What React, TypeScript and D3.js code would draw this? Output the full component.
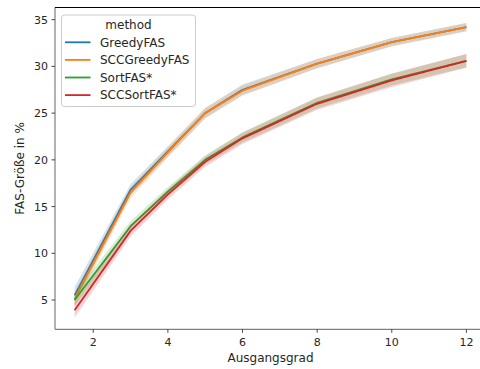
import React from "react";
import * as d3 from "d3";

// Ausgangsgrad (out-degree) values on the x axis
const degrees = [1.5, 3, 4, 5, 6, 8, 10, 12];

const methods = ["GreedyFAS", "SCCGreedyFAS", "SortFAS*", "SCCSortFAS*"];
const colors = ["#1f77b4", "#ff7f0e", "#2ca02c", "#d62728"];

// Mean FAS size in percent per method
const greedyFAS = [5.5, 16.8, 20.9, 25.0, 27.5, 30.3, 32.6, 34.2];
const sccGreedyFAS = [5.1, 16.5, 20.8, 25.0, 27.4, 30.3, 32.6, 34.2];
const sortFAS = [5.0, 12.9, 16.6, 20.0, 22.4, 26.1, 28.6, 30.6];
const sccSortFAS = [3.9, 12.4, 16.3, 19.8, 22.3, 26.0, 28.5, 30.6];

// Confidence interval half-widths per method
const greedyCI = [0.9, 0.6, 0.55, 0.55, 0.55, 0.5, 0.45, 0.45];
const sccGreedyCI = [0.8, 0.6, 0.55, 0.55, 0.55, 0.5, 0.45, 0.45];
const sortCI = [0.7, 0.55, 0.5, 0.5, 0.55, 0.6, 0.65, 0.7];
const sccSortCI = [0.8, 0.6, 0.55, 0.55, 0.6, 0.65, 0.7, 0.75];

const xTicks = [2, 4, 6, 8, 10, 12];
const yTicks = [5, 10, 15, 20, 25, 30, 35];

const seriesValues = [greedyFAS, sccGreedyFAS, sortFAS, sccSortFAS];
const seriesCI = [greedyCI, sccGreedyCI, sortCI, sccSortCI];

const W = 480;
const H = 369;
const left = 55;
const right = 486;
const top = 7.5;
const bottom = 329.3;
const font = "DejaVu Sans, sans-serif";

export default function App() {
  const x = d3.scaleLinear().domain([0.975, 12.525]).range([left, right]);
  const y = d3.scaleLinear().domain([1.87, 36.3]).range([bottom, top]);

  const line = d3
    .line<number>()
    .x((_, i) => x(degrees[i]))
    .y((d) => y(d));

  const area = (vals: number[], ci: number[]) =>
    d3
      .area<number>()
      .x((_, i) => x(degrees[i]))
      .y0((d, i) => y(d - ci[i]))
      .y1((d, i) => y(d + ci[i]))(vals) || "";

  return (
    <svg
      width={W}
      height={H}
      style={{ position: "absolute", left: 0, top: 0, background: "#fff" }}
      fontFamily={font}
    >
      <defs>
        <clipPath id="plotArea">
          <rect x={left} y={top} width={right - left} height={bottom - top} />
        </clipPath>
      </defs>
      <g clipPath="url(#plotArea)">
        {seriesValues.map((vals, k) => (
          <g key={methods[k]}>
            <path
              d={line(vals) || ""}
              fill="none"
              stroke={colors[k]}
              strokeWidth={1.8}
              strokeLinejoin="round"
            />
            <path d={area(vals, seriesCI[k])} fill={colors[k]} fillOpacity={0.2} />
          </g>
        ))}
      </g>

      {/* spines */}
      <line x1={left} x2={left} y1={top} y2={bottom} stroke="#7f7f7f" strokeWidth={1.2} />
      <line x1={left} x2={W} y1={bottom} y2={bottom} stroke="#7f7f7f" strokeWidth={1.2} />
      <line x1={left} x2={W} y1={top} y2={top} stroke="#000" strokeWidth={1.2} />

      {/* x axis */}
      {xTicks.map((t) => (
        <g key={"x" + t}>
          <line x1={x(t)} x2={x(t)} y1={bottom} y2={bottom + 3.5} stroke="#333" strokeWidth={0.9} />
          <text x={x(t)} y={bottom + 17} textAnchor="middle" fontSize={11} fill="#262626">
            {t}
          </text>
        </g>
      ))}
      <text x={(left + right) / 2} y={362} textAnchor="middle" fontSize={12} fill="#262626">
        Ausgangsgrad
      </text>

      {/* y axis */}
      {yTicks.map((t) => (
        <g key={"y" + t}>
          <line x1={left - 3.5} x2={left} y1={y(t)} y2={y(t)} stroke="#333" strokeWidth={0.9} />
          <text x={left - 7} y={y(t) + 4} textAnchor="end" fontSize={11} fill="#262626">
            {t}
          </text>
        </g>
      ))}
      <text
        transform={`translate(24, ${(top + bottom) / 2}) rotate(-90)`}
        textAnchor="middle"
        fontSize={12}
        fill="#262626"
      >
        FAS-Größe in %
      </text>

      {/* legend */}
      <g>
        <rect
          x={61.5}
          y={15}
          width={134}
          height={91.5}
          rx={3}
          fill="#fff"
          fillOpacity={0.8}
          stroke="#cccccc"
          strokeWidth={1}
        />
        <text x={128.5} y={29} textAnchor="middle" fontSize={12} fill="#262626">
          method
        </text>
        {methods.map((m, k) => {
          const ly = 42.3 + k * 17.6;
          return (
            <g key={m}>
              <line x1={65} x2={90.5} y1={ly} y2={ly} stroke={colors[k]} strokeWidth={1.8} />
              <text x={100} y={ly + 4.3} fontSize={12} fill="#262626">
                {m}
              </text>
            </g>
          );
        })}
      </g>
    </svg>
  );
}
